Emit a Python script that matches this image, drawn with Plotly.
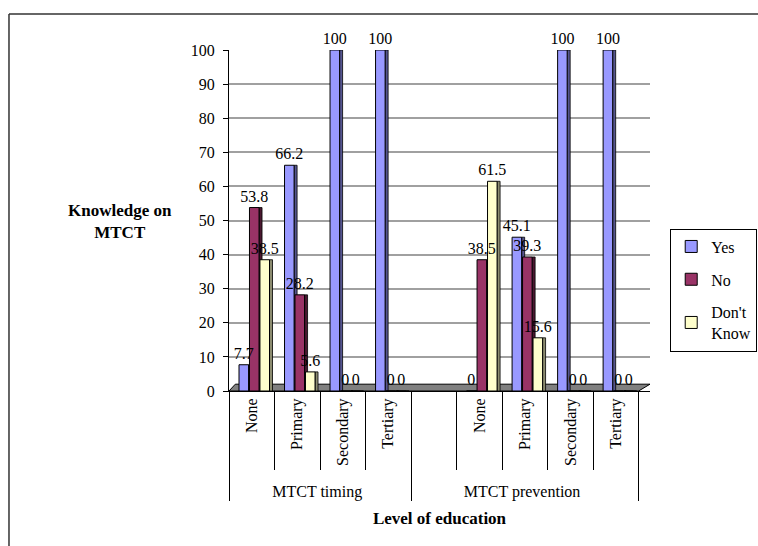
import plotly.graph_objects as go

# Two questions, each broken down by level of education.
# A zero-width space keeps the second group's labels distinct so the
# empty spacer slot stays at the front of that group.
ZW = "\u200b"
groups = ["MTCT timing"] * 4 + ["MTCT prevention"] * 5
levels = ["None", "Primary", "Secondary", "Tertiary",
          " ", "None" + ZW, "Primary" + ZW, "Secondary" + ZW, "Tertiary" + ZW]

yes_vals = [7.7, 66.2, 100, 100, None, 0, 45.1, 100, 100]
no_vals = [53.8, 28.2, 0, 0, None, 38.5, 39.3, 0, 0]
dk_vals = [38.5, 5.6, 0, 0, None, 61.5, 15.6, 0, 0]

# name, values, front colour, side colour
series = [
    ("Yes", yes_vals, "#9999FF", "#55558f"),
    ("No", no_vals, "#993366", "#4a1830"),
    ("Don't<br>Know", dk_vals, "#FFFFCC", "#8c8c70"),
]

FONT = "Liberation Serif"
LABEL_FONT = dict(family=FONT, size=16, color="black")

BAR_W = 0.21      # front face width, in category units
SIDE_W = 0.066    # side face width, gives the bars a little depth
START = -0.28     # left edge of the first bar relative to the category centre


def fmt(v):
    if v is None:
        return ""
    return f"{v:g}"


def offset_of(i):
    return START + i * (BAR_W + 0.02)


fig = go.Figure()
xs = [groups, levels]

# side faces
for i, (name, vals, color, side) in enumerate(series):
    fig.add_trace(go.Bar(
        x=xs, y=vals,
        offset=offset_of(i) + BAR_W, width=SIDE_W,
        marker=dict(color=side, line=dict(color="black", width=0.8)),
        showlegend=False, hoverinfo="skip",
    ))

# front faces
for i, (name, vals, color, side) in enumerate(series):
    fig.add_trace(go.Bar(
        x=xs, y=vals,
        name=name, legendgroup=name,
        offset=offset_of(i), width=BAR_W,
        marker=dict(color=color, line=dict(color="black", width=1)),
    ))

# value labels, drawn last so they sit on top of neighbouring bars
for i, (name, vals, color, side) in enumerate(series):
    fig.add_trace(go.Bar(
        x=xs, y=vals,
        offset=offset_of(i), width=BAR_W,
        marker=dict(color="rgba(0,0,0,0)", line=dict(width=0)),
        text=[fmt(v) for v in vals],
        textposition="outside",
        constraintext="none",
        textfont=LABEL_FONT,
        outsidetextfont=LABEL_FONT,
        insidetextfont=LABEL_FONT,
        cliponaxis=False,
        showlegend=False, hoverinfo="skip",
    ))

fig.update_layout(
    width=758,
    height=546,
    margin=dict(l=229, r=108, t=50, b=155, autoexpand=False),
    paper_bgcolor="white",
    plot_bgcolor="white",
    barmode="overlay",
    font=dict(family=FONT, size=16, color="black"),
    showlegend=True,
    legend=dict(
        x=1.048, y=0.296, xanchor="left", yanchor="middle",
        bordercolor="black", borderwidth=1,
        font=dict(family=FONT, size=16, color="black"),
        itemwidth=30, tracegroupgap=9,
    ),
    xaxis=dict(
        type="multicategory",
        range=[-0.5, 8.75],
        automargin=False,
        showline=True, linecolor="black", linewidth=1,
        ticks="outside", tickson="boundaries", ticklen=78,
        tickcolor="black", tickwidth=1,
        tickangle=-90,
        showdividers=True, dividercolor="black", dividerwidth=1,
        showgrid=False,
        tickfont=dict(family=FONT, size=16, color="black"),
        title=dict(text="<b>Level of education</b>",
                   font=dict(family=FONT, size=17, color="black"),
                   standoff=12),
    ),
    yaxis=dict(
        range=[0, 100],
        dtick=10,
        automargin=False,
        showline=True, linecolor="black", linewidth=1,
        ticks="outside", ticklen=5, tickcolor="black",
        ticklabelstandoff=5,
        showgrid=True, gridcolor="#a0a0a0", gridwidth=1.5,
        zeroline=False,
        tickfont=dict(family=FONT, size=16, color="black"),
    ),
    annotations=[
        dict(text="<b>Knowledge on<br>MTCT</b>", xref="paper", yref="paper",
             x=-0.26, y=0.496, xanchor="center", yanchor="middle",
             showarrow=False,
             font=dict(family=FONT, size=17, color="black")),
    ],
    shapes=[
        # chart frame
        dict(type="line", xref="paper", yref="paper",
             x0=-0.5226, x1=1.3, y0=1.1056, y1=1.1056,
             line=dict(color="#333333", width=1.5)),
        dict(type="line", xref="paper", yref="paper",
             x0=-0.5226, x1=-0.5226, y0=1.1056, y1=-0.5,
             line=dict(color="#333333", width=1.5)),
        # floor of the plot
        dict(type="path", xref="paper", yref="paper",
             path="M 0,0 L 0.973,0 L 1.0,0.02 L 0.015,0.02 Z",
             fillcolor="#808080", line=dict(color="black", width=1),
             layer="below"),
    ],
)

fig.write_html("out.html")
